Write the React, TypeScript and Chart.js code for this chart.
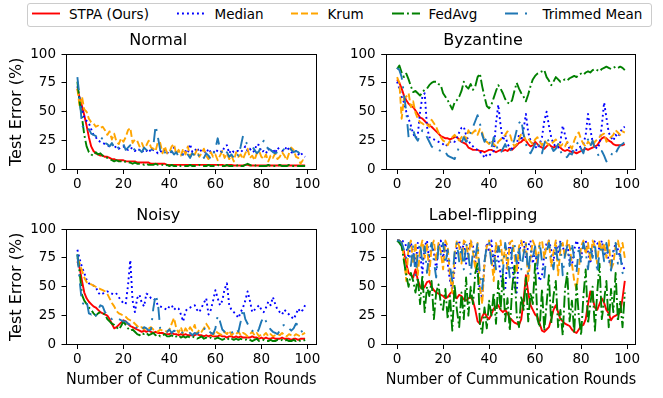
import React, { useEffect, useRef } from "react";
import { Chart, registerables } from "chart.js";

Chart.register(...registerables);

const FONT = "'DejaVu Sans', sans-serif";

const ROUNDS: number[] = Array.from({ length: 100 }, (_, i) => i);
const X_TICKS = [0, 20, 40, 60, 80, 100];
const Y_TICKS = [0, 25, 50, 75, 100];
const SERIES_NAMES = ["STPA (Ours)", "Median", "Krum", "FedAvg", "Trimmed Mean"];
const PANEL_TITLES = ["Normal", "Byzantine", "Noisy", "Label-flipping"];
const X_LABEL = "Number of Cummunication Rounds";
const Y_LABEL = "Test Error (%)";

// ---------- Normal ----------
const NORMAL_STPA = [
  70, 62, 55, 47, 38, 28, 20, 16, 14, 13,
  12, 12, 11, 11, 10, 9, 9, 8, 8, 8,
  8, 7, 7, 7, 7, 7, 6, 6, 6, 6,
  6, 6, 5, 5, 5, 5, 5, 5, 5, 4,
  4, 4, 4, 4, 4, 4, 4, 4, 4, 4,
  4, 4, 4, 4, 4, 4, 4, 4, 4, 4,
  4, 4, 4, 4, 3.5, 3.5, 4, 4, 3.5, 3.5,
  3.5, 3.5, 3.5, 4, 4, 3.5, 3.5, 3.5, 3.5, 3.5,
  3.5, 3.5, 3.5, 3.5, 3.5, 3.5, 3.5, 3.5, 3.5, 3.5,
  3.5, 3.5, 3.5, 3.5, 3.5, 3.5, 3.5, 3.5, 3.5, 3.5,
];
const NORMAL_MEDIAN = [
  72, 60, 52, 45, 42, 40, 35, 30, 28, 25,
  24, 23, 22, 21, 20, 22, 19, 20, 18, 19,
  20, 18, 17, 19, 18, 16, 18, 17, 15, 17,
  16, 18, 15, 17, 16, 14, 16, 15, 17, 14,
  16, 15, 19, 14, 16, 15, 13, 16, 14, 22,
  15, 16, 19, 15, 17, 16, 14, 18, 15, 16,
  14, 17, 16, 15, 20, 21, 14, 17, 15, 16,
  16, 15, 17, 20, 16, 18, 15, 16, 22, 21,
  15, 16, 14, 18, 15, 18, 14, 19, 17, 16,
  16, 20, 17, 15, 14, 16, 13, 15, 12, 11,
];
const NORMAL_KRUM = [
  70, 54, 63, 52, 50, 44, 41, 40, 37, 38,
  36, 37, 34, 30, 33, 26, 31, 24, 22, 27,
  24, 28, 34, 36, 23, 26, 25, 20, 23, 18,
  21, 25, 19, 18, 16, 24, 23, 14, 20, 14,
  15, 20, 22, 13, 17, 12, 18, 13, 20, 11,
  15, 13, 17, 11, 14, 18, 12, 9, 15, 11,
  13, 8, 12, 16, 10, 14, 9, 12, 7, 15,
  11, 13, 9, 14, 18, 10, 12, 8, 14, 16,
  11, 9, 13, 7, 12, 10, 14, 9, 11, 15,
  12, 8, 14, 19, 17, 11, 10, 5, 8, 6,
];
const NORMAL_FEDAVG = [
  76, 58, 45, 30, 20, 15, 13, 12, 15, 13,
  14, 12, 11, 10, 9, 8, 7, 8, 7, 7,
  6, 7, 6, 6, 5, 6, 5, 5, 5, 4,
  5, 4, 4, 4, 5, 4, 4, 4, 3, 4,
  3, 4, 3, 3, 4, 3, 3, 3, 3, 4,
  3, 3, 3, 4, 3, 3, 3, 4, 3, 3,
  3, 4, 3, 3, 3, 4, 3, 3, 3, 3,
  4, 3, 3, 4, 5, 4, 3, 3, 4, 3,
  3, 3, 3, 4, 3, 3, 3, 3, 4, 3,
  3, 3, 4, 3, 3, 3, 3, 3, 3, 3,
];
const NORMAL_TRIMMED = [
  80, 62, 38, 36, 33, 35, 31, 30, 29, 27,
  25, 28, 23, 22, 20, 23, 19, 21, 18, 20,
  22, 17, 19, 21, 16, 18, 20, 17, 15, 19,
  17, 14, 16, 20, 38, 28, 17, 13, 15, 12,
  14, 16, 13, 15, 11, 14, 12, 15, 13, 10,
  14, 12, 15, 11, 13, 10, 14, 12, 9, 13,
  18, 27, 18, 14, 12, 15, 11, 13, 10, 14,
  12, 20, 29, 24, 22, 21, 20, 17, 14, 16,
  21, 25, 20, 18, 17, 15, 14, 15, 17, 16,
  18, 19, 20, 17, 15, 16, 15, 13, 12, 11,
];

// ---------- Byzantine ----------
const BYZ_STPA = [
  78, 75, 70, 64, 60, 57, 55, 54, 51, 48,
  45, 44, 42, 40, 38, 37, 35, 33, 31, 29,
  28, 27, 27, 26, 27, 28, 28, 26, 24, 23,
  22, 19, 18, 17, 17, 17, 16, 16, 15, 16,
  17, 17, 16, 15, 16, 17, 16, 17, 16, 18,
  17, 19, 21, 23, 24, 26, 25, 22, 20, 21,
  24, 22, 20, 19, 18, 20, 22, 20, 19, 20,
  20, 19, 17, 16, 17, 16, 15, 15, 14, 15,
  16, 17, 18, 17, 18, 19, 20, 21, 24, 27,
  28, 27, 25, 24, 22, 21, 21, 21, 21, 22,
];
const BYZ_MEDIAN = [
  76, 70, 63, 58, 50, 44, 38, 31, 27, 30,
  50, 63, 66, 37, 28, 27, 26, 25, 24, 23,
  22, 20, 22, 24, 25, 24, 28, 32, 36, 37,
  30, 25, 22, 20, 18, 17, 15, 14, 10, 13,
  12, 14, 16, 40, 56, 38, 25, 30, 22, 19,
  18, 20, 22, 30, 25, 35, 48, 32, 25, 22,
  20, 18, 22, 28, 42, 50, 38, 28, 22, 20,
  19, 24, 38, 30, 22, 18, 16, 15, 17, 19,
  20, 22, 30, 48, 35, 24, 20, 18, 22, 38,
  58, 45, 32, 28, 25, 30, 28, 32, 36, 37,
];
const BYZ_KRUM = [
  80, 75, 44, 62, 63, 66, 54, 59, 49, 44,
  41, 40, 38, 39, 37, 43, 40, 37, 32, 28,
  25, 24, 21, 25, 28, 30, 27, 25, 28, 30,
  26, 34, 30, 32, 34, 30, 35, 32, 25, 24,
  22, 25, 22, 20, 24, 26, 28, 30, 33, 31,
  24, 20, 22, 26, 31, 30, 25, 27, 24, 22,
  26, 28, 24, 21, 25, 23, 21, 22, 24, 26,
  23, 20, 22, 20, 24, 21, 18, 25, 30, 32,
  26, 22, 20, 24, 22, 20, 24, 26, 28, 30,
  31, 24, 26, 28, 30, 34, 32, 30, 33, 32,
];
const BYZ_FEDAVG = [
  87, 90, 84, 80, 83, 78, 72, 67, 68, 66,
  64, 67, 69, 70, 73, 75, 76, 76, 74, 73,
  66, 63, 60, 56, 52, 58, 60, 63, 68, 76,
  72, 70, 74, 69, 72, 80, 83, 72, 63, 55,
  53, 56, 62, 68, 73, 70, 66, 61, 58, 57,
  60, 68, 75, 70, 66, 63, 59, 65, 72, 78,
  81, 83, 84, 85, 86, 80, 77, 73, 76, 80,
  78, 76, 77, 78, 77, 79, 80, 81, 80, 82,
  83, 82, 84, 85, 84, 86, 87, 86, 85, 87,
  88, 89, 88, 87, 88, 89, 88, 89, 88, 86,
];
const BYZ_TRIMMED = [
  88, 86, 80, 65, 50, 28, 37, 34, 28, 25,
  30, 34, 32, 28, 24, 20, 18, 18, 17, 16,
  17, 15, 12, 11, 10, 9, 14, 20, 23, 28,
  24, 26, 32, 37, 42, 47, 40, 30, 24, 28,
  25, 18, 28, 22, 16, 14, 18, 22, 17, 15,
  20, 26, 34, 40, 43, 30, 22, 16, 14, 18,
  22, 25, 18, 14, 22, 28, 24, 20, 16, 18,
  22, 16, 12, 10, 11, 14, 13, 18, 22, 24,
  18, 14, 22, 26, 20, 25, 18, 14, 11, 16,
  12, 7, 9, 12, 16, 14, 18, 21, 22, 24,
];

// ---------- Noisy ----------
const NOISY_STPA = [
  72, 66, 55, 45, 40, 37, 35, 33, 32, 30,
  28, 27, 26, 25, 22, 18, 14, 15, 17, 19,
  21, 20, 18, 16, 15, 14, 13, 12, 11, 12,
  11, 12, 11, 10, 11, 10, 10, 10, 9, 9,
  9, 10, 9, 9, 8, 9, 8, 9, 8, 8,
  8, 8, 9, 8, 8, 7, 8, 7, 8, 7,
  7, 7, 8, 7, 7, 6, 7, 7, 6, 7,
  6, 7, 6, 6, 6, 6, 7, 6, 6, 5,
  6, 5, 6, 5, 5, 6, 5, 5, 5, 6,
  5, 5, 5, 4, 5, 5, 4, 5, 5, 5,
];
const NOISY_MEDIAN = [
  82, 74, 67, 62, 56, 53, 52, 51, 50, 45,
  43, 44, 45, 46, 45, 44, 43, 44, 41, 38,
  36, 35, 51, 73, 38, 28, 40, 43, 36, 33,
  44, 43, 40, 40, 38, 34, 33, 32, 31, 30,
  33, 34, 30, 32, 31, 26, 20, 29, 31, 32,
  33, 34, 30, 28, 32, 36, 40, 26, 30, 38,
  47, 40, 34, 38, 48, 53, 34, 30, 28, 26,
  23, 28, 32, 38, 46, 38, 28, 30, 32, 34,
  30, 28, 32, 37, 34, 41, 35, 30, 28, 26,
  30, 28, 26, 24, 22, 26, 31, 28, 30, 34,
];
const NOISY_KRUM = [
  75, 70, 64, 58, 54, 53, 52, 51, 50, 49,
  48, 47, 46, 44, 40, 36, 33, 29, 27, 26,
  25, 24, 22, 21, 20, 18, 16, 14, 15, 13,
  15, 14, 15, 13, 12, 11, 13, 12, 12, 11,
  13, 18, 23, 14, 10, 15, 9, 14, 11, 15,
  12, 17, 9, 13, 11, 14, 18, 15, 11, 8,
  12, 10, 9, 8, 11, 9, 12, 8, 10, 9,
  11, 8, 10, 9, 7, 9, 11, 8, 10, 7,
  9, 8, 10, 7, 9, 7, 8, 9, 8, 10,
  8, 7, 9, 8, 7, 9, 8, 7, 9, 10,
];
const NOISY_FEDAVG = [
  78, 62, 43, 38, 35, 32, 30, 27, 25, 27,
  28, 27, 26, 22, 20, 18, 17, 15, 13, 16,
  20, 17, 14, 12, 13, 11, 9, 8, 10, 9,
  10, 8, 9, 10, 8, 9, 7, 8, 9, 7,
  7, 8, 6, 7, 8, 6, 7, 6, 7, 6,
  7, 6, 5, 6, 7, 5, 6, 5, 6, 5,
  5, 6, 5, 4, 5, 6, 4, 5, 4, 5,
  4, 5, 4, 4, 5, 4, 3, 4, 5, 3,
  3, 4, 3, 3, 4, 3, 3, 4, 3, 4,
  3, 4, 3, 3, 4, 3, 4, 3, 3, 4,
];
const NOISY_TRIMMED = [
  78, 55, 36, 35, 38, 27, 26, 28, 25, 30,
  34, 33, 28, 26, 24, 22, 23, 22, 22, 21,
  20, 20, 18, 17, 15, 16, 14, 12, 13, 15,
  14, 12, 13, 31, 43, 36, 14, 12, 12, 11,
  13, 10, 12, 11, 10, 9, 11, 10, 9, 10,
  8, 10, 9, 11, 10, 13, 15, 12, 10, 9,
  14, 25, 20, 13, 11, 10, 9, 10, 12, 14,
  11, 20, 31, 22, 18, 14, 12, 10, 9, 14,
  20, 24, 20, 16, 13, 11, 10, 9, 12, 16,
  17, 17, 14, 12, 14, 18, 17, 13, 10, 8,
];

// ---------- Label-flipping ----------
const LF_STPA = [
  90, 90, 88, 80, 70, 62, 60, 58, 65, 56,
  50, 48, 50, 54, 55, 50, 47, 45, 44, 43,
  42, 40, 41, 44, 46, 42, 40, 43, 42, 39,
  38, 40, 41, 38, 30, 20, 18, 24, 28, 24,
  22, 26, 31, 33, 34, 30, 28, 30, 27, 23,
  21, 19, 18, 17, 22, 38, 60, 45, 34, 30,
  26, 24, 18, 12, 11, 13, 15, 22, 30, 34,
  28, 22, 20, 18, 17, 16, 13, 11, 10, 13,
  16, 17, 22, 35, 46, 40, 32, 30, 35, 40,
  36, 30, 27, 21, 24, 25, 26, 28, 40, 55,
];
const LF_MEDIAN = [
  90, 90, 90, 89, 85, 75, 88, 80, 68, 88,
  78, 62, 85, 90, 72, 88, 80, 65, 85, 90,
  75, 88, 70, 55, 48, 65, 85, 90, 78, 88,
  70, 82, 90, 85, 72, 60, 48, 40, 70, 88,
  80, 90, 68, 85, 75, 60, 50, 48, 75, 90,
  70, 50, 45, 80, 88, 90, 75, 85, 90, 70,
  82, 65, 55, 60, 78, 88, 90, 82, 72, 88,
  80, 90, 85, 78, 88, 72, 68, 82, 90, 85,
  75, 88, 90, 80, 70, 85, 90, 88, 82, 90,
  78, 85, 72, 70, 80, 88, 82, 75, 68, 65,
];
const LF_KRUM = [
  90, 90, 88, 75, 55, 85, 90, 70, 88, 60,
  82, 90, 75, 88, 60, 85, 90, 72, 88, 80,
  65, 90, 85, 60, 45, 78, 90, 85, 70, 90,
  88, 75, 90, 80, 65, 88, 50, 35, 70, 85,
  90, 75, 55, 88, 80, 90, 70, 85, 65, 88,
  90, 78, 62, 85, 90, 80, 88, 55, 75, 90,
  85, 70, 88, 90, 75, 85, 90, 68, 80, 90,
  60, 82, 88, 75, 90, 85, 70, 55, 48, 65,
  85, 90, 78, 88, 72, 90, 85, 70, 90, 80,
  88, 75, 90, 65, 70, 85, 90, 80, 88, 75,
];
const LF_FEDAVG = [
  90, 88, 85, 72, 60, 50, 62, 55, 45, 58,
  35, 60, 28, 50, 42, 55, 22, 45, 52, 35,
  30, 48, 22, 42, 12, 52, 30, 15, 45, 22,
  58, 25, 50, 35, 62, 70, 18, 10, 32, 14,
  38, 25, 45, 18, 55, 30, 62, 20, 40, 12,
  48, 68, 25, 15, 42, 30, 58, 20, 45, 35,
  70, 22, 15, 48, 12, 35, 60, 18, 42, 55,
  15, 30, 8, 48, 62, 20, 38, 10, 52, 25,
  8, 42, 65, 18, 35, 50, 12, 45, 70, 22,
  38, 55, 15, 48, 28, 62, 20, 38, 15, 45,
];
const LF_TRIMMED = [
  90, 90, 88, 82, 75, 88, 68, 85, 60, 78,
  88, 70, 85, 62, 80, 88, 72, 58, 85, 78,
  88, 70, 82, 68, 55, 80, 88, 72, 85, 65,
  88, 78, 60, 82, 75, 88, 62, 48, 72, 85,
  88, 70, 80, 65, 85, 78, 62, 88, 75, 58,
  82, 88, 70, 85, 65, 78, 88, 60, 82, 75,
  85, 68, 88, 72, 58, 80, 88, 76, 65, 85,
  70, 88, 60, 78, 85, 68, 88, 74, 62, 85,
  70, 88, 80, 65, 85, 75, 88, 62, 80, 86,
  72, 88, 76, 64, 82, 88, 70, 78, 62, 60,
];

const PANEL_DATA = [
  [NORMAL_STPA, NORMAL_MEDIAN, NORMAL_KRUM, NORMAL_FEDAVG, NORMAL_TRIMMED],
  [BYZ_STPA, BYZ_MEDIAN, BYZ_KRUM, BYZ_FEDAVG, BYZ_TRIMMED],
  [NOISY_STPA, NOISY_MEDIAN, NOISY_KRUM, NOISY_FEDAVG, NOISY_TRIMMED],
  [LF_STPA, LF_MEDIAN, LF_KRUM, LF_FEDAVG, LF_TRIMMED],
];

const LW = 1.9;
const STYLES = [
  { color: "#ff0000", dash: [] as number[] },
  { color: "#0000ff", dash: [1.9, 3.1] },
  { color: "#ffa500", dash: [7, 3] },
  { color: "#008000", dash: [12, 3, 1.9, 3] },
  { color: "#1f77b4", dash: [13, 7, 2, 7] },
];

const PANELS = [
  { left: 0, top: 30, w: 330, h: 170, yWidth: 66, xHeight: 30.5, padRight: 13.5, yTitle: true, xTitle: false },
  { left: 330, top: 30, w: 320, h: 170, yWidth: 55.7, xHeight: 30.5, padRight: 13.8, yTitle: false, xTitle: false },
  { left: 0, top: 205, w: 330, h: 193, yWidth: 66, xHeight: 53.5, padRight: 13.5, yTitle: true, xTitle: true },
  { left: 330, top: 205, w: 320, h: 193, yWidth: 55.7, xHeight: 53.5, padRight: 13.8, yTitle: false, xTitle: true },
];

const framePlugin = {
  id: "frame",
  afterDatasetsDraw(chart: any) {
    const { ctx, chartArea } = chart;
    const l = Math.round(chartArea.left) + 0.5;
    const t = Math.round(chartArea.top) + 0.5;
    const r = Math.round(chartArea.right) - 0.5;
    const b = Math.round(chartArea.bottom) - 0.5;
    ctx.save();
    ctx.strokeStyle = "#000";
    ctx.lineWidth = 1;
    ctx.setLineDash([]);
    ctx.strokeRect(l, t, r - l, b - t);
    ctx.restore();
  },
};

function makeConfig(idx: number): any {
  const p = PANELS[idx];
  const series = PANEL_DATA[idx];
  const tickFont = { family: FONT, size: 13.5 };
  return {
    type: "line",
    data: {
      datasets: series.map((vals, i) => ({
        label: SERIES_NAMES[i],
        data: vals.map((y, k) => ({ x: ROUNDS[k], y })),
        borderColor: STYLES[i].color,
        backgroundColor: STYLES[i].color,
        borderDash: STYLES[i].dash,
        borderWidth: LW,
        borderJoinStyle: "round",
        pointRadius: 0,
        pointHoverRadius: 0,
        fill: false,
        tension: 0,
        order: 4 - i,
      })),
    },
    options: {
      animation: false,
      responsive: false,
      maintainAspectRatio: false,
      events: [],
      devicePixelRatio: 1,
      layout: { padding: { left: 0, right: p.padRight, top: 0, bottom: 0 } },
      plugins: {
        legend: { display: false },
        tooltip: { enabled: false },
        title: {
          display: true,
          text: PANEL_TITLES[idx],
          color: "#000",
          font: { family: FONT, size: 16, weight: "normal" },
          padding: { top: 1.4, bottom: 3.4 },
        },
      },
      scales: {
        x: {
          type: "linear",
          min: -4.95,
          max: 103.95,
          afterBuildTicks: (s: any) => {
            s.ticks = X_TICKS.map((v) => ({ value: v }));
          },
          afterFit: (s: any) => {
            s.height = p.xHeight;
            s.paddingLeft = 0;
            s.paddingRight = 0;
          },
          grid: { display: true, drawOnChartArea: false, drawTicks: true, tickLength: 4.5, color: "#000", lineWidth: 1 },
          border: { display: false },
          ticks: { color: "#000", font: tickFont, padding: 2, maxRotation: 0, autoSkip: false, callback: (v: any) => String(v) },
          title: {
            display: p.xTitle,
            text: X_LABEL,
            color: "#000",
            font: { family: FONT, size: 16 },
            padding: { top: 0, bottom: 8.6 },
          },
        },
        y: {
          type: "linear",
          min: 0,
          max: 100,
          afterBuildTicks: (s: any) => {
            s.ticks = Y_TICKS.map((v) => ({ value: v }));
          },
          afterFit: (s: any) => {
            s.width = p.yWidth;
            s.paddingTop = 0;
            s.paddingBottom = 0;
          },
          grid: { display: true, drawOnChartArea: false, drawTicks: true, tickLength: 4.5, color: "#000", lineWidth: 1 },
          border: { display: false },
          ticks: { color: "#000", font: tickFont, padding: 5.5, autoSkip: false, callback: (v: any) => String(v) },
          title: {
            display: p.yTitle,
            text: Y_LABEL,
            color: "#000",
            font: { family: FONT, size: 16 },
            padding: { top: 7.7, bottom: 0 },
          },
        },
      },
    },
    plugins: [framePlugin],
  };
}

function Panel({ idx }: { idx: number }) {
  const ref = useRef<HTMLCanvasElement>(null);
  const p = PANELS[idx];
  useEffect(() => {
    const chart = new Chart(ref.current as HTMLCanvasElement, makeConfig(idx));
    return () => chart.destroy();
  }, [idx]);
  return (
    <canvas
      ref={ref}
      width={p.w}
      height={p.h}
      style={{ position: "absolute", left: p.left, top: p.top, width: p.w, height: p.h }}
    />
  );
}

const LEGEND_POS = [
  { line: 31.7, text: 69 },
  { line: 176.7, text: 214.5 },
  { line: 290.7, text: 327.5 },
  { line: 391.7, text: 428.5 },
  { line: 505, text: 542.5 },
];

function Legend() {
  return (
    <div>
      <div
        style={{
          position: "absolute",
          left: 26.5,
          top: 2.5,
          width: 623,
          height: 22.5,
          border: "1px solid #cccccc",
          borderRadius: 3,
          background: "#fff",
        }}
      />
      {SERIES_NAMES.map((name, i) => (
        <React.Fragment key={name}>
          <svg
            width={28}
            height={7}
            style={{ position: "absolute", left: LEGEND_POS[i].line, top: 9.8, overflow: "visible" }}
          >
            <line
              x1={0}
              y1={3.5}
              x2={28}
              y2={3.5}
              stroke={STYLES[i].color}
              strokeWidth={LW}
              strokeDasharray={STYLES[i].dash.length ? STYLES[i].dash.join(" ") : undefined}
            />
          </svg>
          <div
            style={{
              position: "absolute",
              left: LEGEND_POS[i].text,
              top: 5.6,
              fontFamily: FONT,
              fontSize: 13.5,
              lineHeight: "16px",
              color: "#000",
              whiteSpace: "nowrap",
            }}
          >
            {name}
          </div>
        </React.Fragment>
      ))}
    </div>
  );
}

export default function App() {
  return (
    <div style={{ position: "absolute", left: 0, top: 0, width: 663, height: 398, background: "#fff", overflow: "hidden" }}>
      <Legend />
      {PANELS.map((_, i) => (
        <Panel key={i} idx={i} />
      ))}
    </div>
  );
}
